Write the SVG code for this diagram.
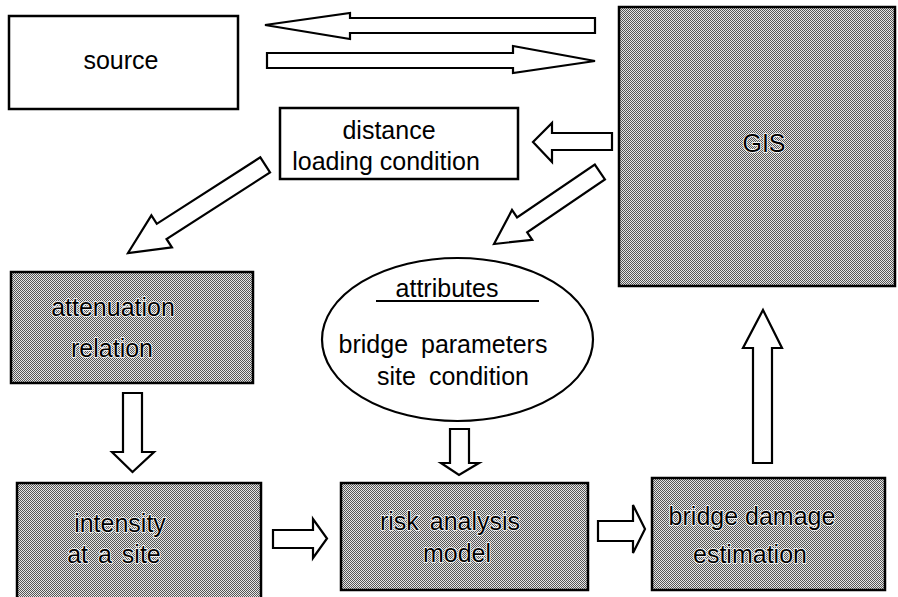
<svg xmlns="http://www.w3.org/2000/svg" width="898" height="597" viewBox="0 0 898 597">
<style>
.box{fill:#fff;stroke:#000;stroke-width:2.5}
.shade{fill:url(#dither);stroke:#000;stroke-width:2.5}
.arr{fill:#fff;stroke:#000;stroke-width:2.2;stroke-linejoin:miter}
.t{font-family:"Liberation Sans",Arial,sans-serif;font-size:25px;fill:#000;text-anchor:middle}
.ts{font-family:"Liberation Sans",Arial,sans-serif;font-size:25px;fill:#000;text-anchor:middle;stroke:#fff;stroke-width:1.6;paint-order:stroke}
</style>
<defs>
<pattern id="dither" width="2" height="2" patternUnits="userSpaceOnUse">
<rect width="2" height="2" fill="#e6e6e6"/>
<rect x="0" y="0" width="1" height="1" fill="#555"/>
<rect x="1" y="1" width="1" height="1" fill="#555"/>
</pattern>
</defs>
<rect width="898" height="597" fill="#fff"/>
<g id="connectors">
<polygon class="arr" points="265,25 350,13 350,18 595,18 595,33 350,33 350,39"/>
<polygon class="arr" points="267,53 513,53 513,46 595,61 513,73 513,68 267,68"/>
<polygon class="arr" points="533,142 552,123 552,133 612,133 612,150 552,150 552,162"/>
<polygon class="arr" transform="translate(128 253) rotate(-32.7)" points="0,0 40,-19 40,-9 163,-9 163,9 40,9 40,19"/>
<polygon class="arr" transform="translate(494 244) rotate(-34.2)" points="0,0 34,-18 34,-9 128,-9 128,9 34,9 34,18"/>
<polygon class="arr" points="123,393 142,393 142,452 154,452 132.5,472 112,452 123,452"/>
<polygon class="arr" points="450,429 469,429 469,463 479,463 459,475 441,463 450,463"/>
<polygon class="arr" points="273,530 313,530 313,519 327,538.5 313,558 313,548 273,548"/>
<polygon class="arr" points="598,521 633,521 633,505 645,529 633,553 633,541 598,541"/>
<polygon class="arr" points="763,310 782,348 772,348 772,463 753,463 753,348 743,348"/>
</g>
<g id="source">
<rect class="box" x="9" y="16" width="229" height="93"/>
<text class="t" x="121" y="69">source</text>
</g>
<g id="distance">
<rect class="box" x="280" y="108" width="238" height="71"/>
<text class="t" x="389" y="139">distance</text>
<text class="t" x="386" y="170">loading condition</text>
</g>
<g id="gis">
<rect class="shade" x="619" y="7" width="276" height="279"/>
<text class="ts" x="764" y="152">GIS</text>
</g>
<g id="attenuation">
<rect class="shade" x="11" y="272" width="242" height="111"/>
<text class="ts" x="113" y="316">attenuation</text>
<text class="ts" x="112" y="357">relation</text>
</g>
<g id="attributes">
<ellipse cx="457.5" cy="339.5" rx="135.5" ry="81.5" fill="#fff" stroke="#000" stroke-width="2.2"/>
<text class="t" x="447" y="297">attributes</text>
<line x1="376" y1="301" x2="539" y2="301" stroke="#000" stroke-width="2"/>
<text class="t" x="443" y="353" word-spacing="6">bridge parameters</text>
<text class="t" x="453" y="385" word-spacing="6">site condition</text>
</g>
<g id="intensity">
<rect class="shade" x="17" y="483" width="244" height="120"/>
<text class="ts" x="120" y="532">intensity</text>
<text class="ts" x="114" y="563" word-spacing="3">at a site</text>
</g>
<g id="risk">
<rect class="shade" x="341" y="483" width="247" height="107"/>
<text class="ts" x="450" y="530" word-spacing="4">risk analysis</text>
<text class="ts" x="457" y="562">model</text>
</g>
<g id="bridge">
<rect class="shade" x="652" y="478" width="233" height="112"/>
<text class="ts" x="752" y="525">bridge damage</text>
<text class="ts" x="750" y="563">estimation</text>
</g>
</svg>
